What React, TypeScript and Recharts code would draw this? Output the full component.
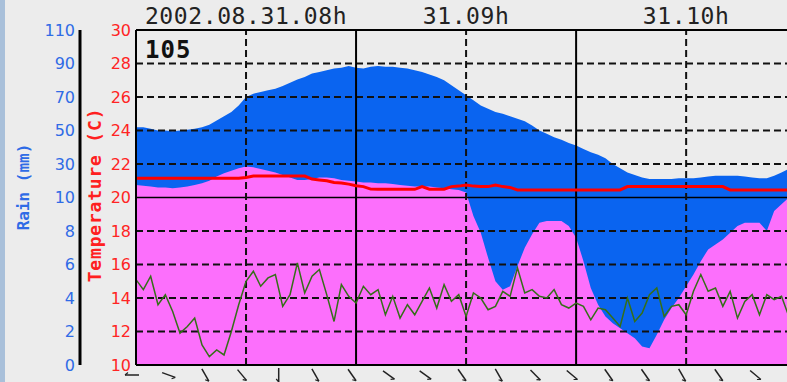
import React from 'react';
import { ComposedChart, Area, Line, XAxis, YAxis, ReferenceLine } from 'recharts';

// minutes after 07:30, sampled every 2 minutes
const minutes = [
  0, 2, 4, 6, 8, 10, 12, 14, 16, 18, 20, 22, 24, 26, 28, 30, 32, 34, 36, 38,
  40, 42, 44, 46, 48, 50, 52, 54, 56, 58, 60, 62, 64, 66, 68, 70, 72, 74, 76, 78,
  80, 82, 84, 86, 88, 90, 92, 94, 96, 98, 100, 102, 104, 106, 108, 110, 112, 114, 116, 118,
  120, 122, 124, 126, 128, 130, 132, 134, 136, 138, 140, 142, 144, 146, 148, 150, 152, 154, 156, 158,
  160, 162, 164, 166, 168, 170, 172, 174, 176, 178,
];

const blueLevel = [
  24.2, 24.2, 24.1, 24.0, 24.0, 23.95, 24.0, 24.05, 24.1, 24.2,
  24.35, 24.6, 24.85, 25.1, 25.5, 26.0, 26.2, 26.3, 26.4, 26.5,
  26.65, 26.85, 27.05, 27.2, 27.4, 27.5, 27.6, 27.7, 27.75, 27.85,
  27.75, 27.7, 27.8, 27.85, 27.8, 27.8, 27.75, 27.7, 27.6, 27.5,
  27.35, 27.2, 27.0, 26.7, 26.4, 26.1, 25.8, 25.5, 25.3, 25.1,
  25.0, 24.85, 24.7, 24.55, 24.3, 24.0, 23.8, 23.6, 23.45, 23.25,
  23.1, 22.9, 22.7, 22.55, 22.35, 22.0, 21.75, 21.5, 21.35, 21.2,
  21.1, 21.1, 21.1, 21.1, 21.15, 21.15, 21.15, 21.2, 21.25, 21.3,
  21.3, 21.3, 21.3, 21.25, 21.2, 21.15, 21.15, 21.3, 21.5, 21.7,
];

const pinkLevel = [
  20.75, 20.7, 20.65, 20.6, 20.6, 20.55, 20.6, 20.65, 20.75, 20.85,
  21.0, 21.25, 21.45, 21.6, 21.75, 21.85, 21.8, 21.7, 21.6, 21.5,
  21.35, 21.2, 21.05, 21.05, 21.1, 21.2, 21.2, 21.15, 21.05, 21.0,
  20.95, 20.9, 20.9, 20.85, 20.85, 20.8, 20.75, 20.7, 20.65, 20.65,
  20.65, 20.6, 20.55, 20.5, 20.45, 20.3, 18.9, 17.9, 16.4, 15.0,
  14.5, 14.7, 15.9, 17.0, 17.8, 18.5, 18.6, 18.6, 18.6, 18.3,
  17.6, 16.2, 14.6, 13.6, 12.9, 12.5, 12.2, 11.9, 11.6, 11.1,
  11.0, 11.8, 12.7, 13.4, 14.0, 14.7, 15.4, 16.2, 16.9, 17.2,
  17.5, 17.9, 18.3, 18.5, 18.5, 18.5, 18.0, 19.2, 19.6, 20.0,
];

const airTemp = [
  21.15, 21.15, 21.15, 21.15, 21.15, 21.15, 21.15, 21.15, 21.15, 21.15,
  21.15, 21.15, 21.15, 21.15, 21.15, 21.2, 21.28, 21.28, 21.28, 21.28,
  21.28, 21.28, 21.28, 21.28, 21.1, 21.05, 21.0, 20.9, 20.87, 20.8,
  20.7, 20.65, 20.5, 20.49, 20.49, 20.49, 20.49, 20.49, 20.49, 20.65,
  20.5, 20.5, 20.5, 20.65, 20.68, 20.75, 20.68, 20.65, 20.65, 20.75,
  20.65, 20.6, 20.45, 20.45, 20.45, 20.45, 20.45, 20.45, 20.45, 20.45,
  20.45, 20.45, 20.45, 20.45, 20.45, 20.45, 20.45, 20.65, 20.65, 20.65,
  20.65, 20.65, 20.65, 20.65, 20.65, 20.65, 20.65, 20.65, 20.65, 20.65,
  20.65, 20.45, 20.45, 20.45, 20.45, 20.45, 20.45, 20.45, 20.45, 20.45,
];

const dewPoint = [
  15.1, 14.5, 15.3, 13.6, 14.2, 13.2, 11.9, 12.3, 12.8, 11.2,
  10.5, 10.9, 10.6, 12.0, 13.6, 15.0, 15.6, 14.7, 15.2, 15.4,
  13.5, 14.2, 16.1, 14.3, 15.3, 15.7, 14.2, 12.6, 14.8, 14.1,
  13.7, 14.7, 14.2, 14.5, 13.0, 14.1, 12.8, 13.6, 13.0, 13.8,
  14.6, 13.4, 14.8, 13.8, 14.2, 12.9, 14.3, 14.0, 13.3, 13.5,
  14.4, 14.1, 15.8, 14.3, 14.5, 14.1, 14.0, 14.5, 13.6, 13.4,
  13.7, 13.5, 12.7, 13.4, 13.3, 12.8, 12.3, 14.0, 12.6, 13.1,
  14.2, 14.6, 12.9, 13.5, 13.6, 13.0, 14.4, 15.4, 14.4, 14.6,
  13.5, 14.4, 12.8, 13.8, 14.2, 13.0, 14.2, 13.9, 14.1, 12.9,
];

const tempTicks = [10, 12, 14, 16, 18, 20, 22, 24, 26, 28, 30];
const rainLabels = [0, 2, 4, 6, 8, 10, 30, 50, 70, 90, 110];
const dashedTemps = [12, 14, 16, 18, 22, 24, 26, 28];

const hourTicks = [30, 90, 150];
const hourLabels = ['2002.08.31.08h', '31.09h', '31.10h'];
const halfHourLines = [60, 120];

const windTicks = [0, 10, 20, 30, 40, 50, 60, 70, 80, 90, 100, 110, 120, 130, 140, 150, 160, 170];
const windAngles = [90, -70, -30, -40, 0, -30, -35, -55, -55, -35, -30, -45, -50, -35, -35, -30, -35, -50];

const rows = minutes.map((m, i) => ({
  m,
  blue: blueLevel[i],
  pink: pinkLevel[i],
  air: airTemp[i],
  dew: dewPoint[i],
}));

// temperature scale sits next to the plot, the rain scale outside it
const TEMP = 'inner';
const RAIN = 'outer';

// small wind marker under every 10-minute step
const WindTick = (props: any) => {
  const { x, y, index } = props;
  const a = windAngles[index] ?? 0;
  return (
    <g transform={`translate(${x - 4},${y + 10}) rotate(${a})`}>
      <line x1={0} y1={-7} x2={0} y2={7} stroke="#222" strokeWidth={1.5} />
      <line x1={0} y1={7} x2={-2.5} y2={4} stroke="#222" strokeWidth={1.2} />
    </g>
  );
};

export default function App() {
  return (
    <div
      style={{
        position: 'absolute',
        left: 0,
        top: 0,
        width: 787,
        height: 382,
        background: '#ececec',
        overflow: 'hidden',
      }}
    >
      <div style={{ position: 'absolute', left: 0, top: 0, width: 5, height: 382, background: '#a9c0da' }} />
      <ComposedChart
        width={787}
        height={382}
        data={rows}
        margin={{ top: 0, right: 0, bottom: 0, left: 0 }}
        style={{ position: 'absolute', left: 0, top: 0 }}
      >
        <XAxis
          xAxisId="b"
          dataKey="m"
          type="number"
          domain={[0, 177.5]}
          allowDataOverflow
          ticks={windTicks}
          interval={0}
          height={17}
          tickSize={0}
          tickMargin={0}
          tick={<WindTick />}
          axisLine={{ stroke: '#000', strokeWidth: 2 }}
          tickLine={false}
        />
        <XAxis
          xAxisId="t"
          dataKey="m"
          orientation="top"
          type="number"
          domain={[0, 177.5]}
          allowDataOverflow
          ticks={hourTicks}
          interval={0}
          height={30}
          tickSize={0}
          tickMargin={6}
          tickFormatter={(v: number) => hourLabels[hourTicks.indexOf(v)] ?? ''}
          tick={{ fill: '#222', fontSize: 23, fontFamily: 'DejaVu Sans Mono', letterSpacing: 0.6 }}
          axisLine={{ stroke: '#000', strokeWidth: 2 }}
          tickLine={false}
        />
        <YAxis
          yAxisId={TEMP}
          type="number"
          domain={[10, 30]}
          allowDataOverflow
          ticks={tempTicks}
          interval={0}
          width={56}
          tickSize={0}
          tickMargin={5}
          tick={{ fill: '#ff2424', fontSize: 16, fontFamily: 'DejaVu Sans' }}
          axisLine={{ stroke: '#000', strokeWidth: 2 }}
          tickLine={false}
        />
        <YAxis
          yAxisId={RAIN}
          type="number"
          domain={[10, 30]}
          allowDataOverflow
          ticks={tempTicks}
          interval={0}
          width={80}
          tickSize={0}
          tickMargin={5}
          tickFormatter={(v: number) => String(rainLabels[tempTicks.indexOf(v)] ?? '')}
          tick={{ fill: '#2f6be6', fontSize: 16, fontFamily: 'DejaVu Sans' }}
          axisLine={{ stroke: '#000', strokeWidth: 3 }}
          tickLine={false}
        />

        <Area
          xAxisId="b"
          yAxisId={RAIN}
          dataKey="blue"
          type="linear"
          fill="#0a64f0"
          fillOpacity={1}
          stroke="none"
          isAnimationActive={false}
        />
        <Area
          xAxisId="b"
          yAxisId={TEMP}
          dataKey="pink"
          type="linear"
          fill="#fc6ffc"
          fillOpacity={1}
          stroke="none"
          isAnimationActive={false}
        />

        {dashedTemps.map((t) => (
          <ReferenceLine key={`h${t}`} xAxisId="b" yAxisId={TEMP} y={t} stroke="#111" strokeWidth={2} strokeDasharray="7 4" />
        ))}
        <ReferenceLine xAxisId="b" yAxisId={TEMP} y={20} stroke="#000" strokeWidth={1.5} />
        {hourTicks.map((m) => (
          <ReferenceLine key={`v${m}`} xAxisId="b" yAxisId={TEMP} x={m} stroke="#111" strokeWidth={2} strokeDasharray="7 4" />
        ))}
        {halfHourLines.map((m) => (
          <ReferenceLine key={`s${m}`} xAxisId="b" yAxisId={TEMP} x={m} stroke="#000" strokeWidth={2} />
        ))}

        <Line
          xAxisId="b"
          yAxisId={TEMP}
          dataKey="dew"
          type="linear"
          stroke="#356f18"
          strokeWidth={1.5}
          dot={false}
          isAnimationActive={false}
        />
        <Line
          xAxisId="b"
          yAxisId={TEMP}
          dataKey="air"
          type="linear"
          stroke="#ff0000"
          strokeWidth={3}
          dot={false}
          isAnimationActive={false}
        />
      </ComposedChart>

      <div
        style={{
          position: 'absolute',
          left: 145,
          top: 36,
          fontFamily: 'DejaVu Sans Mono',
          fontWeight: 'bold',
          fontSize: 24,
          color: '#111',
          letterSpacing: 1,
        }}
      >
        105
      </div>
      <div
        style={{
          position: 'absolute',
          left: 23,
          top: 187,
          transform: 'translate(-50%, -50%) rotate(-90deg)',
          whiteSpace: 'nowrap',
          fontFamily: 'DejaVu Sans Mono',
          fontWeight: 'bold',
          fontSize: 16,
          color: '#2f6be6',
        }}
      >
        Rain (mm)
      </div>
      <div
        style={{
          position: 'absolute',
          left: 94,
          top: 195,
          transform: 'translate(-50%, -50%) rotate(-90deg)',
          whiteSpace: 'nowrap',
          fontFamily: 'DejaVu Sans Mono',
          fontWeight: 'bold',
          fontSize: 18,
          letterSpacing: 0.8,
          color: '#ff2020',
        }}
      >
        Temperature (C)
      </div>
    </div>
  );
}
